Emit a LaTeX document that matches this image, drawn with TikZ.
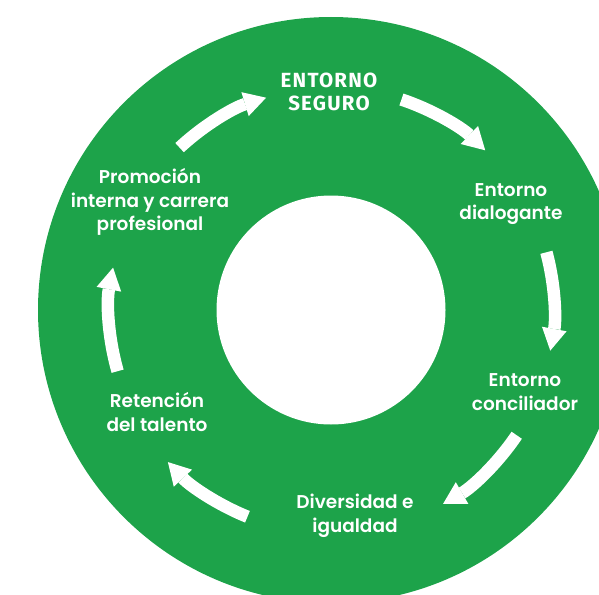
\documentclass[tikz,border=0pt]{standalone}
\usepackage{fontspec}
\setmainfont{Poppins}[UprightFont={Poppins Medium},BoldFont={Poppins SemiBold}]
\newfontfamily\titlefont{Fira Sans}[LetterSpace=6]
\usepackage{tikz}
\usetikzlibrary{arrows.meta}
\usetikzlibrary{positioning}
\usetikzlibrary{calc}
\definecolor{ringgreen}{RGB}{29,163,74}
\tikzstyle{stage}=[text=white,align=center,inner sep=0pt,font=\fontsize{18.5}{23.5}\selectfont\bfseries]
\tikzstyle{headline}=[text=white,align=center,inner sep=0pt,font=\fontsize{20.5}{23}\selectfont\titlefont\bfseries]
\tikzstyle{flow}=[white,line width=12.5pt,-{Triangle[width=25pt,length=22pt,line width=0pt]}]

\begin{document}
\begin{tikzpicture}[x=1pt,y=1pt]
\useasboundingbox (0,0) rectangle (599,-594);
\clip (0,0) rectangle (599,-594);
\coordinate (hub) at (331,-310);
\fill[ringgreen] (hub) circle[radius=293];
\fill[white] (hub) circle[radius=114.5];

\node[headline] (seguro) at (329,-91.5) {ENTORNO\\SEGURO};
\node[stage] (dialogo) at (511,-204) {Entorno\\dialogante};
\node[stage] (concilia) at (525,-392) {Entorno\\conciliador};
\node[stage] (diversidad) at (355,-516) {Diversidad e\\igualdad};
\node[stage] (retencion) at (157,-412) {Retención\\del talento};
\node[stage] (promocion) at (150,-202) {Promoción\\interna y carrera\\profesional};

\draw[flow] (hub) ++(133:222) arc[start angle=133,end angle=107,radius=222];
\draw[flow] (hub) ++(71.5:222) arc[start angle=71.5,end angle=46,radius=222];
\draw[flow] (hub) ++(15:223) arc[start angle=15,end angle=-10.5,radius=223];
\draw[flow] (hub) ++(-34:224) arc[start angle=-34,end angle=-60,radius=224];
\draw[flow] (hub) ++(-112:223) arc[start angle=-112,end angle=-137,radius=223];
\draw[flow] (hub) ++(-164:222) arc[start angle=-164,end angle=-191,radius=222];
\end{tikzpicture}
\end{document}
